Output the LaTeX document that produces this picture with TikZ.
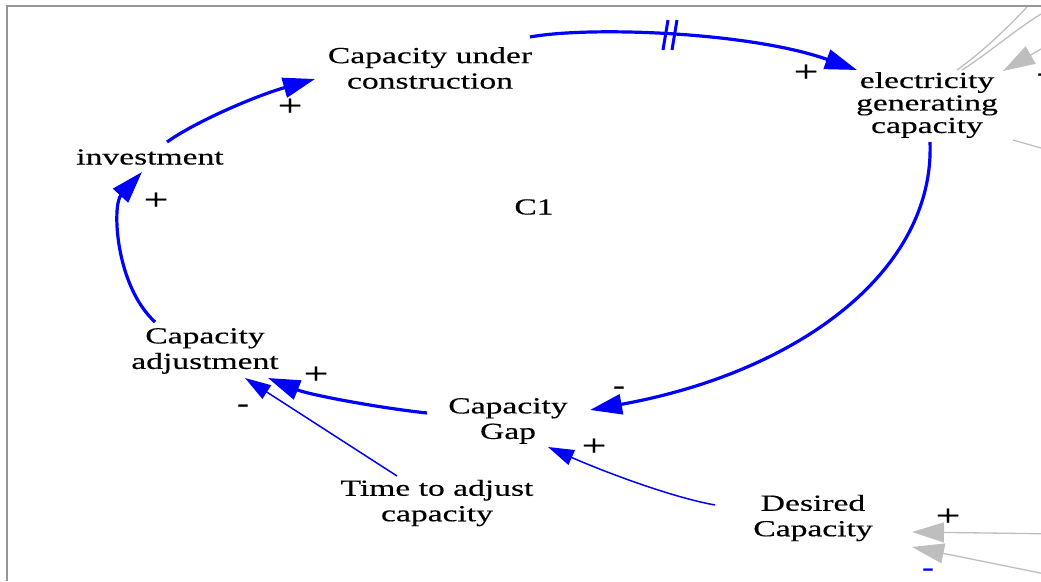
\documentclass[tikz,border=0pt]{standalone}
\usepackage{fontspec}
\setmainfont{Liberation Serif}[FakeStretch=1.46,FakeBold=0.4]
\usetikzlibrary{arrows.meta}
\definecolor{cldblue}{RGB}{0,0,255}
\definecolor{cldgray}{RGB}{190,190,190}
\definecolor{framegray}{RGB}{150,150,150}
\begin{document}
\begin{tikzpicture}[x=1pt,y=-1pt,
  var/.style={font=\fontsize{23}{25.5}\selectfont, align=center, inner sep=0pt},
  pol/.style={font=\fontsize{30}{30}\selectfont, inner sep=0pt},
  neg/.style={font=\fontsize{24}{24}\selectfont, inner sep=0pt},
  link/.style={draw=cldblue, line width=3.2pt, -{Triangle[length=32pt,width=20pt]}},
  thinlink/.style={draw=cldblue, line width=1.5pt, -{Triangle[length=26pt,width=16pt]}},
  greylink/.style={draw=cldgray, line width=1.3pt, -{Triangle[length=32pt,width=20pt]}},
  greyline/.style={draw=cldgray, line width=1.3pt},
  delaymark/.style={draw=cldblue, line width=3pt}
]
\useasboundingbox (0,0) rectangle (1041,581);
% frame
\draw[framegray, line width=1.8pt] (7,581) -- (7,6) -- (1045,6);

% variables
\node[var] (cuc) at (430,68) {Capacity under\\construction};
\node[var, font=\fontsize{23}{22.5}\selectfont] (elec) at (927,105) {electricity\\generating\\capacity};
\node[var] (inv) at (150,157) {investment};
\node[var] (c1) at (534,207) {C1};
\node[var] (cadj) at (205,351) {Capacity\\adjustment};
\node[var] (gap) at (508,421) {Capacity\\Gap};
\node[var] (time) at (437,503) {Time to adjust\\capacity};
\node[var] (des) at (813,518) {Desired\\Capacity};

% loop links
\draw[link] ([shift={(17,-15)}]inv.center) .. controls (195,122) and (255,96) .. ([shift={(-115,11)}]cuc.center);
\draw[link] ([shift={(100,-31)}]cuc.center) .. controls (590,26) and (750,32) .. ([shift={(-70,-35)}]elec.center);
\draw[link] ([shift={(3,37)}]elec.center) .. controls (935,270) and (800,372) .. ([shift={(82,-11)}]gap.center);
\draw[link] ([shift={(-81,-8)}]gap.center) .. controls (380,408) and (310,395) .. ([shift={(63,27)}]cadj.center);
\draw[link] ([shift={(-50,-29)}]cadj.center) .. controls (115,285) and (112,205) .. ([shift={(-8,15)}]inv.center);
\draw[thinlink] ([shift={(-40,-27)}]time.center) -- ([shift={(40,27)}]cadj.center);
\draw[thinlink] ([shift={(-98,-13)}]des.center) .. controls (670,497) and (600,470) .. ([shift={(40,26)}]gap.center);

% delay mark
\draw[delaymark] (663,50) -- (668,20);
\draw[delaymark] (672,50) -- (677,20);

% polarities
\node[pol] (p1) at (290,107) {+};
\node[pol] (p2) at (806,73) {+};
\node[neg] (p3) at (619,390) {-};
\node[pol] (p4) at (316,375) {+};
\node[pol] (p5) at (156,201) {+};
\node[neg] (p6) at (243,408) {-};
\node[pol] (p7) at (594,447) {+};
\node[pol] (p8) at (948,517) {+};
\node[neg, text=cldblue] (p9) at (928,572) {-};
\node[neg] (p10) at (1043,77) {-};

% grey links to off-picture variables
\coordinate (ga) at (1027,7);
\coordinate (gb) at (1041,14);
\coordinate (gc) at (1060,38);
\coordinate (gd) at (1041,148);
\coordinate (ge) at (1060,534);
\coordinate (gf) at (1060,577);
\draw[greyline] ([shift={(30,-35)}]elec.center) .. controls (985,50) and (1010,25) .. (ga);
\draw[greyline] ([shift={(35,-35)}]elec.center) .. controls (990,52) and (1015,30) .. (gb);
\draw[greylink] (gc) -- ([shift={(76,-34)}]elec.center);
\draw[greyline] ([shift={(86,35)}]elec.center) -- (gd);
\draw[greylink] (ge) -- ([shift={(99,14)}]des.center);
\draw[greylink] (gf) -- ([shift={(99,29)}]des.center);
\end{tikzpicture}
\end{document}
